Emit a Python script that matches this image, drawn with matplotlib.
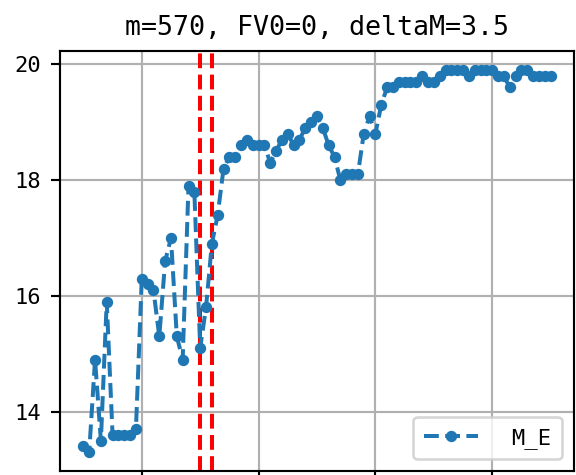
import numpy as np
import matplotlib
matplotlib.use("Agg")
import matplotlib.pyplot as plt

# Monospaced look of the original labels
plt.rcParams['font.family'] = ['DejaVu Sans Mono']

# Data: M_E per step (steps 10..90)
steps = list(range(10, 91))
m_e = [13.4, 13.3, 14.9, 13.5, 15.9, 13.6, 13.6, 13.6, 13.6, 13.7,
       16.3, 16.2, 16.1, 15.3, 16.6, 17.0, 15.3, 14.9, 17.9, 17.8,
       15.1, 15.8, 16.9, 17.4, 18.2, 18.4, 18.4, 18.6, 18.7, 18.6,
       18.6, 18.6, 18.3, 18.5, 18.7, 18.8, 18.6, 18.7, 18.9, 19.0,
       19.1, 18.9, 18.6, 18.4, 18.0, 18.1, 18.1, 18.1, 18.8, 19.1,
       18.8, 19.3, 19.6, 19.6, 19.7, 19.7, 19.7, 19.7, 19.8, 19.7,
       19.7, 19.8, 19.9, 19.9, 19.9, 19.9, 19.8, 19.9, 19.9, 19.9,
       19.9, 19.8, 19.8, 19.6, 19.8, 19.9, 19.9, 19.8, 19.8, 19.8,
       19.8]
# Marked steps (red dashed lines)
marks = [30, 32]

dpi = 192
fig = plt.figure(figsize=(576 / dpi, 475 / dpi), dpi=dpi)
ax = fig.add_axes([60 / 576, 3.7 / 475, 514 / 576, 420.3 / 475])

for m in marks:
    ax.axvline(m, color='r', linestyle='--')

ax.plot(steps, m_e, '.--', label='M_E', markersize=6.5)

ax.set_xticks([20, 40, 60, 80])
ax.set_yticks([14, 16, 18, 20])
# x tick labels sit just below the visible frame, as in the reference
ax.tick_params(labelsize=8.3)
ax.grid(True)
ax.set_title("m=570, FV0=0, deltaM=3.5", fontsize=10)
ax.legend(loc='lower right', prop={'size': 8.3}, handlelength=2.43,
          handletextpad=1.5, borderpad=0.48, borderaxespad=0.55)

fig.savefig("out.png", dpi=dpi)
